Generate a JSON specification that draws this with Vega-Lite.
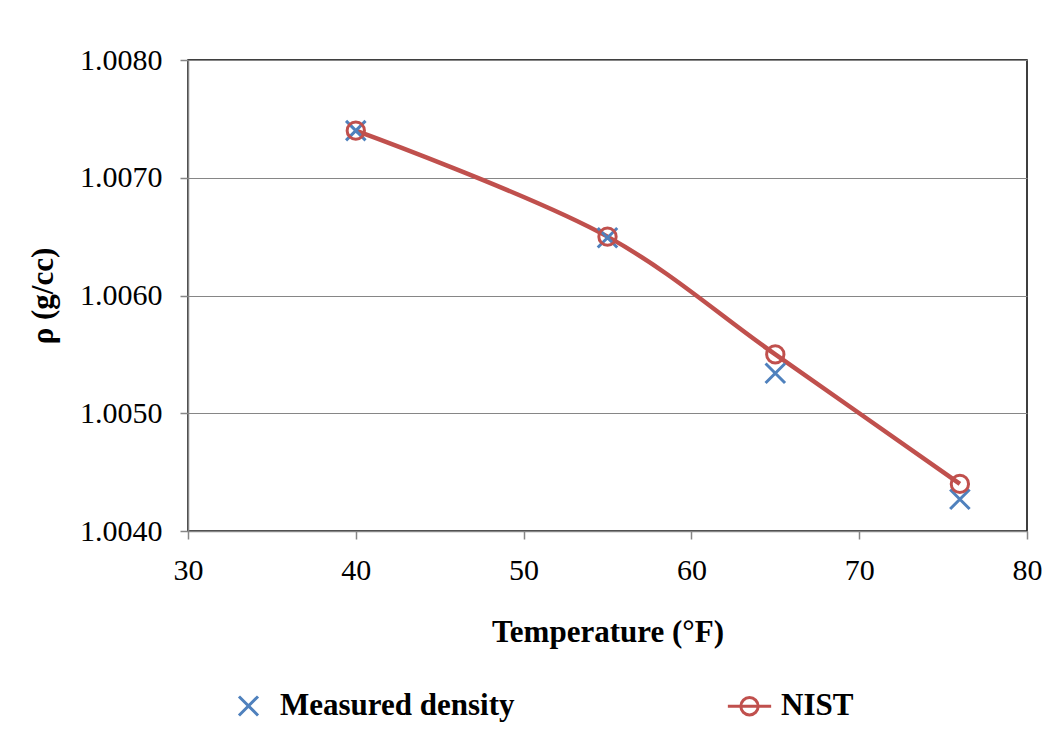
{
  "$schema": "https://vega.github.io/schema/vega-lite/v6.json",
  "width": 839,
  "height": 471,
  "autosize": "none",
  "padding": {"left": 188, "top": 60, "right": 25, "bottom": 203},
  "background": "white",
  "data": {
    "values": [
      {"series": "Measured density", "temp": 40, "rho": 1.00740},
      {"series": "Measured density", "temp": 55, "rho": 1.00649},
      {"series": "Measured density", "temp": 65, "rho": 1.00534},
      {"series": "Measured density", "temp": 76, "rho": 1.00427},
      {"series": "NIST", "temp": 40, "rho": 1.00740},
      {"series": "NIST", "temp": 55, "rho": 1.00650},
      {"series": "NIST", "temp": 65, "rho": 1.00550},
      {"series": "NIST", "temp": 76, "rho": 1.00440}
    ]
  },
  "encoding": {
    "x": {
      "field": "temp", "type": "quantitative",
      "scale": {"domain": [30, 80], "nice": false, "zero": false},
      "axis": {"values": [30, 40, 50, 60, 70, 80], "title": "Temperature (°F)", "grid": false}
    },
    "y": {
      "field": "rho", "type": "quantitative",
      "scale": {"domain": [1.004, 1.008], "nice": false, "zero": false},
      "axis": {"values": [1.004, 1.005, 1.006, 1.007, 1.008], "format": ".4f", "title": "ρ (g/cc)", "grid": true}
    }
  },
  "layer": [
    {
      "transform": [{"filter": "datum.series === 'NIST'"}],
      "mark": {"type": "line", "color": "#C0504D", "strokeWidth": 4.5, "interpolate": "catmull-rom"},
      "encoding": {}
    },
    {
      "transform": [{"filter": "datum.series === 'Measured density'"}],
      "mark": {"type": "point", "filled": false, "strokeWidth": 3, "opacity": 1, "shape": "M-1,-1L1,1M1,-1L-1,1", "size": 380, "stroke": "#4F81BD"},
      "encoding": {}
    },
    {
      "transform": [{"filter": "datum.series === 'NIST'"}],
      "mark": {"type": "point", "filled": false, "strokeWidth": 3, "opacity": 1, "shape": "circle", "size": 300, "stroke": "#C0504D"},
      "encoding": {}
    },
    {
      "mark": {"type": "point", "filled": false, "strokeWidth": 3, "opacity": 0, "size": 300},
      "encoding": {
        "shape": {
          "field": "series", "type": "nominal",
          "scale": {"domain": ["Measured density", "NIST"], "range": ["M-1.1,-1.1L1.1,1.1M1.1,-1.1L-1.1,1.1", "M-2.5,0L-1,0M1,0L2.5,0M-1,0A1,1 0 1,1 1,0A1,1 0 1,1 -1,0M-1,0L1,0"]},
          "legend": {
            "orient": "none", "legendX": 45, "legendY": 630,
            "direction": "horizontal", "title": null,
            "labelFont": "Liberation Serif", "labelFontSize": 31, "labelFontWeight": "bold", "labelColor": "black",
            "labelLimit": 400, "columnPadding": 206, "symbolStrokeWidth": 3, "labelOffset": 16,
            "symbolOpacity": 1, "symbolSize": 300
          }
        },
        "stroke": {
          "field": "series", "type": "nominal",
          "scale": {"domain": ["Measured density", "NIST"], "range": ["#4F81BD", "#C0504D"]}
        }
      }
    }
  ],
  "config": {
    "view": {"stroke": "black", "strokeWidth": 1.5},
    "font": "Liberation Serif",
    "legend": {"labelFont": "Liberation Serif", "labelFontWeight": "bold"},
    "axis": {
      "labelFont": "Liberation Serif", "labelFontSize": 30, "labelColor": "black", "labelFlush": false,
      "titleFont": "Liberation Serif", "titleFontSize": 31, "titleFontWeight": "bold", "titleColor": "black",
      "domainColor": "#868686", "domainWidth": 1.5, "tickColor": "#868686", "tickWidth": 1.5, "tickSize": 8,
      "gridColor": "#868686", "gridWidth": 1.2, "labelPadding": 16
    },
    "axisX": {"titlePadding": 32},
    "axisY": {"titlePadding": 20, "labelPadding": 18}
  }
}
